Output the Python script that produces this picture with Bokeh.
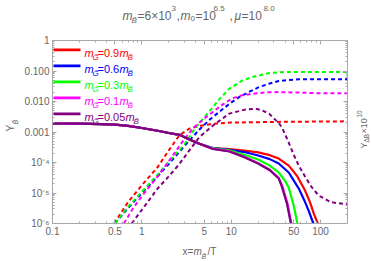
import math
from bokeh.plotting import figure
from bokeh.models import Range1d, FixedTicker, LogAxis, Label, BoxAnnotation
from bokeh.embed import file_html
from bokeh.resources import INLINE

# ---------------- data ----------------
x_ticks = [0.1, 0.5, 1, 5, 10, 50, 100]
x_tick_labels = ["0.1", "0.5", "1", "5", "10", "50", "100"]
x_minor = [0.2, 0.3, 0.4, 0.6, 0.7, 0.8, 0.9, 2, 3, 4, 6, 7, 8, 9,
           20, 30, 40, 60, 70, 80, 90, 200]
y_ticks = [1e-6, 1e-5, 1e-4, 1e-3, 1e-2, 1e-1, 1]
y_tick_labels = ["10⁻⁶", "10⁻⁵", "10⁻⁴", "0.001", "0.010", "0.100", "1"]
y_minor = [m * d for d in [1e-6, 1e-5, 1e-4, 1e-3, 1e-2, 1e-1] for m in range(2, 10)]
x_min, x_max = 0.1, 200
y_min, y_max = 1e-6, 1

ratios = ["0.9", "0.6", "0.3", "0.1", "0.05"]
colors = ["#FF0000", "#0000FF", "#00FF00", "#FF00FF", "#800080"]

# Y_B (solid)
yb_x_red = [0.1, 0.2, 0.35, 0.5, 0.7, 1, 1.5, 2, 2.64, 3.4, 4.4, 6.2, 9.5, 14, 20, 27, 34, 44, 55, 67, 76, 84, 93]
yb_y_red = [1.9e-3, 1.88e-3, 1.82e-3, 1.74e-3, 1.58e-3, 1.35e-3, 1.10e-3, 9.3e-4, 8.1e-4, 5.7e-4, 4.1e-4, 2.95e-4,
            2.75e-4, 2.45e-4, 2.14e-4, 1.74e-4, 1.35e-4, 7.9e-5, 3.5e-5, 1.2e-5, 5e-6, 2.1e-6, 1e-6]
yb_x_blue = [0.1, 0.2, 0.35, 0.5, 0.7, 1, 1.5, 2, 2.64, 3.4, 4.4, 6.2, 9.5, 14, 20, 27, 34, 44, 57, 66, 74, 83]
yb_y_blue = [1.9e-3, 1.88e-3, 1.82e-3, 1.74e-3, 1.58e-3, 1.35e-3, 1.10e-3, 9.3e-4, 8.1e-4, 5.7e-4, 4.1e-4, 3.0e-4,
             2.6e-4, 2.2e-4, 1.7e-4, 1.29e-4, 9.3e-5, 4.7e-5, 1.4e-5, 5.6e-6, 2.5e-6, 1e-6]
yb_x_green = [0.1, 0.2, 0.35, 0.5, 0.7, 1, 1.5, 2, 2.64, 3.4, 4.4, 6.2, 9.5, 14, 20, 27, 34, 40, 44, 50, 55]
yb_y_green = [1.9e-3, 1.88e-3, 1.82e-3, 1.74e-3, 1.58e-3, 1.35e-3, 1.10e-3, 9.3e-4, 8.1e-4, 5.7e-4, 4.1e-4, 2.95e-4,
              2.5e-4, 1.8e-4, 1.26e-4, 7.9e-5, 4.7e-5, 2.5e-5, 1.5e-5, 3.9e-6, 1e-6]
yb_x_magenta = [0.1, 0.2, 0.35, 0.5, 0.7, 1, 1.5, 2, 2.64, 3.4, 4.4, 6.2, 9.5, 14, 20, 27, 34, 37.5, 42.5, 47]
yb_y_magenta = [1.9e-3, 1.88e-3, 1.82e-3, 1.74e-3, 1.58e-3, 1.35e-3, 1.10e-3, 9.3e-4, 8.1e-4, 5.7e-4, 4.1e-4, 2.85e-4,
                2.35e-4, 1.55e-4, 9.5e-5, 5.8e-5, 3.1e-5, 1.6e-5, 4.6e-6, 1e-6]
yb_x_purple = [0.1, 0.2, 0.35, 0.5, 0.7, 1, 1.5, 2, 2.64, 3.4, 4.4, 6.2, 9.5, 14, 20, 27, 34, 37, 42, 46.5]
yb_y_purple = [1.9e-3, 1.88e-3, 1.82e-3, 1.74e-3, 1.58e-3, 1.35e-3, 1.10e-3, 9.3e-4, 8.1e-4, 5.7e-4, 4.1e-4, 2.8e-4,
               2.3e-4, 1.5e-4, 9.3e-5, 5.6e-5, 3.0e-5, 1.55e-5, 4.5e-6, 1e-6]

# Y_DeltaB x 1e10 (dashed)
yd_x_red = [0.49, 0.7, 1, 1.5, 2, 2.64, 3.4, 4.4, 6.2, 10, 30, 100, 200]
yd_y_red = [1e-6, 5e-6, 1.8e-5, 7e-5, 2.5e-4, 7.9e-4, 1.29e-3, 1.58e-3, 1.86e-3, 2.04e-3, 2.14e-3, 2.2e-3, 2.24e-3]
yd_x_blue = [0.5, 0.7, 1, 1.5, 2, 3, 4.4, 5.7, 7.3, 9.5, 12.2, 16, 20.4, 27, 34, 57, 100, 200]
yd_y_blue = [1e-6, 3.2e-6, 1e-5, 3.5e-5, 8.9e-5, 3.5e-4, 1.2e-3, 2.5e-3, 4.5e-3, 8.3e-3, 1.38e-2, 2.1e-2, 2.95e-2,
             3.9e-2, 4.7e-2, 5.4e-2, 5.4e-2, 5.4e-2]
yd_x_green = [0.5, 0.7, 1, 1.5, 2, 3, 4, 5.7, 7.5, 9.5, 13, 17, 26.5, 40, 100, 200]
yd_y_green = [1e-6, 3.5e-6, 1.1e-5, 4e-5, 1.05e-4, 4e-4, 1.4e-3, 4.8e-3, 1.26e-2, 2.6e-2, 4.7e-2, 6.3e-2, 8.5e-2,
              9.3e-2, 9.3e-2, 9.3e-2]
yd_x_magenta = [0.63, 0.8, 1, 1.5, 2, 2.8, 3.7, 5, 6.2, 8, 10.2, 13, 17, 25, 34, 60, 100, 200]
yd_y_magenta = [1e-6, 3.2e-6, 7.9e-6, 3.5e-5, 1.1e-4, 4.5e-4, 1.29e-3, 2.8e-3, 4.5e-3, 7.9e-3, 1.26e-2, 1.58e-2,
                1.78e-2, 2e-2, 2.04e-2, 1.95e-2, 1.86e-2, 1.86e-2]
yd_x_purple = [0.77, 1, 1.5, 2, 2.64, 3.4, 4.4, 6.2, 9.5, 14.5, 18.8, 22, 26.5, 30, 34, 37, 44, 50, 57, 68, 79, 95,
               130, 200]
yd_y_purple = [1e-6, 2.8e-6, 1.4e-5, 3.5e-5, 9.1e-5, 2.5e-4, 6.8e-4, 1.6e-3, 4e-3, 5.5e-3, 5.8e-3, 5.2e-3, 4e-3,
               2.8e-3, 2e-3, 1.4e-3, 4.5e-4, 1.8e-4, 7.9e-5, 3.2e-5, 1.6e-5, 8.3e-6, 5e-6, 4.2e-6]

# ---------------- layout (page pixel coordinates) ----------------
W, H = 370, 260
PL, PR, PT, PB = 52, 347, 40, 223   # plot box edges in page pixels
kx = (PR - PL) / math.log10(x_max / x_min)
ky = (PB - PT) / math.log10(y_max / y_min)
xr = Range1d(10 ** (math.log10(x_min) - PL / kx), 10 ** (math.log10(x_max) + (W - PR) / kx))
yr = Range1d(10 ** (math.log10(y_min) - (H - PB) / ky), 10 ** (math.log10(y_max) + PT / ky))

GRAY = "#a8a8a8"
TXT = "#666666"
FONT = "Liberation Sans"

p = figure(x_axis_type="log", y_axis_type="log", x_range=xr, y_range=yr,
           frame_width=W, frame_height=H, min_border=0,
           output_backend="svg", toolbar_location=None)
p.grid.visible = False
p.outline_line_color = None
p.background_fill_color = "white"
p.border_fill_color = "white"


def style_axis(ax, show_labels, ticks, minor, labels, loc, bounds):
    ax.fixed_location = loc
    ax.bounds = bounds
    ax.ticker = FixedTicker(ticks=ticks, minor_ticks=minor)
    ax.axis_line_color = GRAY
    ax.major_tick_line_color = GRAY
    ax.minor_tick_line_color = GRAY
    ax.major_tick_in = 4
    ax.major_tick_out = 0
    ax.minor_tick_in = 2
    ax.minor_tick_out = 0
    ax.major_label_text_color = TXT
    ax.major_label_text_font = FONT
    ax.major_label_text_font_size = "10px"
    if show_labels:
        ax.major_label_overrides = {t: l for t, l in zip(ticks, labels)}
        ax.major_label_standoff = 3
    else:
        ax.major_label_overrides = {t: "" for t in ticks}
        ax.major_label_standoff = 0


style_axis(p.xaxis[0], True, x_ticks, x_minor, x_tick_labels, y_min, (x_min, x_max))
style_axis(p.yaxis[0], True, y_ticks, y_minor, y_tick_labels, x_min, (y_min, y_max))
top = LogAxis()
p.add_layout(top, "above")
style_axis(top, False, x_ticks, x_minor, x_tick_labels, y_max, (x_min, x_max))
right = LogAxis()
p.add_layout(right, "right")
style_axis(right, False, y_ticks, y_minor, y_tick_labels, x_max, (y_min, y_max))

# dashed curves
dashed = [(yd_x_red, yd_y_red), (yd_x_blue, yd_y_blue), (yd_x_green, yd_y_green),
          (yd_x_magenta, yd_y_magenta), (yd_x_purple, yd_y_purple)]
for (xs, ys), c in zip(dashed, colors):
    p.line(xs, ys, line_color=c, line_width=2, line_dash="4 3")

# solid curves
solid = [(yb_x_red, yb_y_red), (yb_x_blue, yb_y_blue), (yb_x_green, yb_y_green),
         (yb_x_magenta, yb_y_magenta), (yb_x_purple, yb_y_purple)]
for (xs, ys), c in zip(solid, colors):
    p.line(xs, ys, line_color=c, line_width=2.2)


# ---------------- texts (page pixel coords) ----------------
def lab(text, px, py, size, color=TXT, style="normal", angle=0.0, font=FONT):
    p.add_layout(Label(x=px, y=H - py, x_units="screen", y_units="screen",
                       text=text, text_font=font, text_font_size=f"{size}px",
                       text_color=color, text_font_style=style, angle=angle,
                       text_baseline="alphabetic", text_align="left"))


# legend
for i, (r, c) in enumerate(zip(ratios, colors)):
    yl = 49.3 + 16 * i
    p.add_layout(BoxAnnotation(left=PL + 1, right=PL + 28, bottom=H - yl - 1.4, top=H - yl + 1.4,
                               left_units="screen", right_units="screen",
                               bottom_units="screen", top_units="screen",
                               fill_color=c, fill_alpha=1, line_color=None))
    yb = yl + 3
    x0 = 84
    lab("m", x0, yb, 11, c, "italic")
    lab("G̃", x0 + 8, yb + 5, 8, c, "italic")
    lab("=" + r, x0 + 13, yb, 11, c)
    xm = x0 + 13 + (22 if len(r) == 3 else 28)
    lab("m", xm, yb, 11, c, "italic")
    lab("B̃", xm + 8, yb + 5, 8, c, "italic")

# title
lab("m", 122, 15, 12, TXT, "italic")
lab("B̃", 131, 20, 8, TXT, "italic")
lab("=6×10", 137, 15, 12, TXT)
lab("3", 171, 8, 8, TXT)
lab(",", 176, 15, 12, TXT)
lab("m", 180, 15, 12, TXT, "italic")
lab("0", 190, 18, 8, TXT)
lab("=10", 195, 15, 12, TXT)
lab("6.5", 213, 8, 8, TXT)
lab(",", 229, 15, 12, TXT)
lab("μ", 234, 15, 12, TXT, "italic")
lab("=10", 241, 15, 12, TXT)
lab("8.0", 263, 8, 8, TXT)

# x label
lab("x=", 182, 251, 10, TXT)
lab("m", 193, 251, 10, TXT, "italic")
lab("B̃", 201, 256, 7, TXT, "italic")
lab("/T", 207, 251, 10, TXT)

# y label (rotated)
ANG = math.pi / 2
lab("Y", 10, 131, 10, TXT, "normal", ANG)
lab("B̃", 15, 124, 7, TXT, "italic", ANG)

# right label
lab("Y", 363, 148, 9, TXT, "normal", ANG)
lab("ΔB", 366, 142, 6.5, TXT, "normal", ANG)
lab("×10", 363, 133, 9, TXT, "normal", ANG)
lab("10", 359, 117, 6.5, TXT, "normal", ANG)

open("out.html", "w").write(file_html(p, INLINE))
